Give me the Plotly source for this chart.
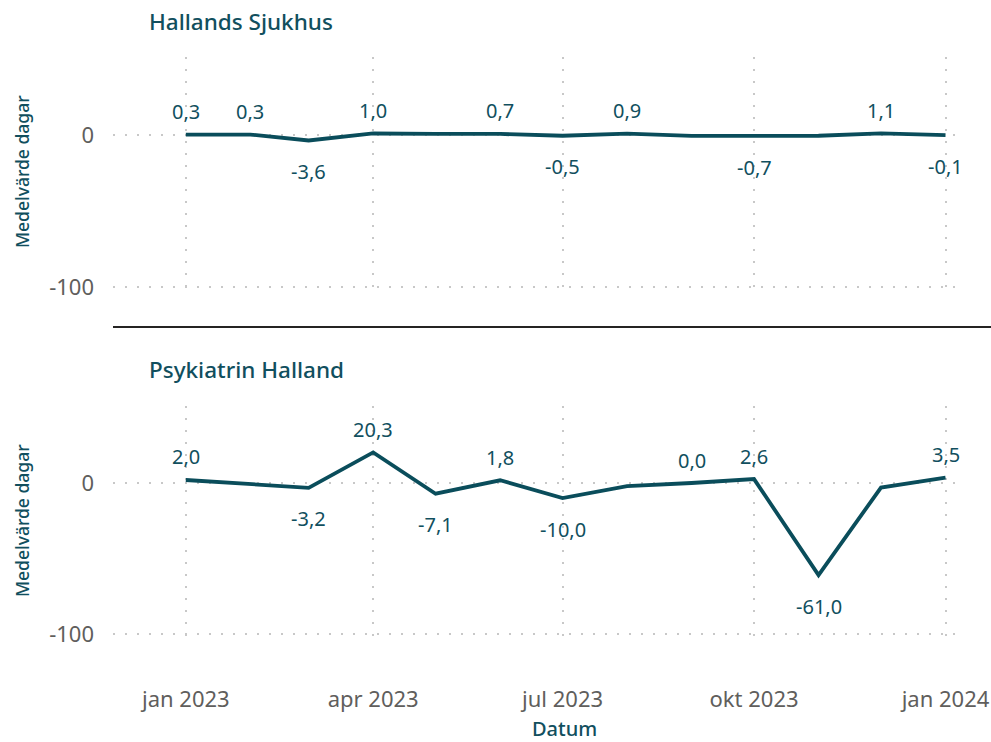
import plotly.graph_objects as go

# ---------------- data ----------------
months = ["2023-01-01", "2023-02-01", "2023-03-01", "2023-04-01", "2023-05-01", "2023-06-01",
          "2023-07-01", "2023-08-01", "2023-09-01", "2023-10-01", "2023-11-01", "2023-12-01",
          "2024-01-01"]
hallands_sjukhus = [0.3, 0.3, -3.6, 1.0, 0.8, 0.7, -0.5, 0.9, -0.6, -0.7, -0.5, 1.1, -0.1]
psykiatrin_halland = [2.0, -0.6, -3.2, 20.3, -7.1, 1.8, -10.0, -2.0, 0.0, 2.6, -61.0, -3.0, 3.5]
x_tick_vals = ["2023-01-01", "2023-04-01", "2023-07-01", "2023-10-01", "2024-01-01"]
x_tick_text = ["jan 2023", "apr 2023", "jul 2023", "okt 2023", "jan 2024"]
y_tick_vals = [-100, 0]
y_tick_text = ["-100", "0"]
panel_titles = ["Hallands Sjukhus", "Psykiatrin Halland"]

# label placement (style): 1 = above, -1 = below, 0 = hidden
lab_top = [1, 1, -1, 1, 0, 1, -1, 1, 0, -1, 0, 1, -1]
lab_bot = [1, 0, -1, 1, -1, 1, -1, 0, 1, 1, -1, 0, 1]

# ---------------- style ----------------
W, H = 991, 742
TEAL = "#0A4D5B"
TEXT_TEAL = "#114F5E"
GRAY = "#605E5C"
GRID = "#C8C8C8"
FONT = "Noto Sans"

def px_x(p):
    return p / W

def px_y(p):
    return 1 - p / H

fig = go.Figure()

fig.add_trace(go.Scatter(x=months, y=hallands_sjukhus, mode="lines",
                         line=dict(color=TEAL, width=3.8), xaxis="x", yaxis="y",
                         hoverinfo="skip", showlegend=False))
fig.add_trace(go.Scatter(x=months, y=psykiatrin_halland, mode="lines",
                         line=dict(color=TEAL, width=3.8), xaxis="x2", yaxis="y2",
                         hoverinfo="skip", showlegend=False))

x_left, x_right = 113, 958
xrange = ["2022-11-27", "2024-01-07"]

ycommon = dict(tickvals=y_tick_vals, ticktext=y_tick_text, showgrid=True,
               gridcolor=GRID, griddash="2px,10px", gridwidth=1.5, zeroline=False,
               showline=False, ticks="", tickfont=dict(family=FONT, size=22, color=GRAY),
               ticklabelstandoff=18, fixedrange=True, automargin=False)
xcommon = dict(type="date", range=xrange, tickvals=x_tick_vals, ticktext=x_tick_text,
               showgrid=True, gridcolor=GRID, griddash="2px,10px", gridwidth=1.5,
               zeroline=False, showline=False, ticks="",
               domain=[px_x(x_left), px_x(x_right)], fixedrange=True, automargin=False)

top_top, top_bot = 57, 294
bot_top, bot_bot = 406, 640

def yrange(top_px, bot_px, zero_px, px_per_unit):
    return [(zero_px - bot_px) / px_per_unit, (zero_px - top_px) / px_per_unit]

fig.update_layout(
    width=W, height=H, margin=dict(l=0, r=0, t=0, b=0, autoexpand=False),
    paper_bgcolor="white", plot_bgcolor="white",
    font=dict(family=FONT),
    xaxis=dict(**xcommon, anchor="y", showticklabels=False),
    yaxis=dict(**ycommon, domain=[px_y(top_bot), px_y(top_top)],
               range=yrange(top_top, top_bot, 135, 1.52), anchor="x"),
    xaxis2=dict(**xcommon, anchor="y2", showticklabels=True,
                tickfont=dict(family=FONT, size=22, color=GRAY), ticklabelstandoff=44),
    yaxis2=dict(**ycommon, domain=[px_y(bot_bot), px_y(bot_top)],
                range=yrange(bot_top, bot_bot, 483, 1.51), anchor="x2"),
)

def fmt(v):
    return f"{v:.1f}".replace(".", ",")

anns = []
for xs, ys, labs, xr, yr in [(months, hallands_sjukhus, lab_top, "x", "y"),
                             (months, psykiatrin_halland, lab_bot, "x2", "y2")]:
    for xv, yv, l in zip(xs, ys, labs):
        if l == 0:
            continue
        anns.append(dict(x=xv, y=yv, xref=xr, yref=yr, text=fmt(yv), showarrow=False,
                         yshift=23 if l > 0 else -31,
                         font=dict(family=FONT, size=20, color=TEXT_TEAL)))

# panel titles
for t, ypx in zip(panel_titles, [22, 369]):
    anns.append(dict(x=px_x(147), y=px_y(ypx), xref="paper", yref="paper", text=t,
                     showarrow=False, xanchor="left", yanchor="middle",
                     font=dict(family=FONT, size=22.5, color=TEXT_TEAL, weight=500)))
# y-axis titles
for ypx in [172, 521]:
    anns.append(dict(x=px_x(22), y=px_y(ypx), xref="paper", yref="paper",
                     text="Medelvärde dagar", textangle=-90, showarrow=False,
                     xanchor="center", yanchor="middle",
                     font=dict(family=FONT, size=17.5, color=TEXT_TEAL, weight=500)))
# x-axis title
anns.append(dict(x=px_x(564), y=px_y(728), xref="paper", yref="paper", text="Datum",
                 showarrow=False, xanchor="center", yanchor="middle", borderpad=0,
                 font=dict(family=FONT, size=20, color=TEXT_TEAL, weight=500)))

fig.update_layout(annotations=anns)
fig.add_shape(type="line", xref="paper", yref="paper", x0=px_x(113), x1=1,
              y0=px_y(327), y1=px_y(327), line=dict(color="#252423", width=2))

fig.write_html("out.html", config={"displayModeBar": False},
               post_script="document.body.style.margin='0';document.body.style.padding='0';")
